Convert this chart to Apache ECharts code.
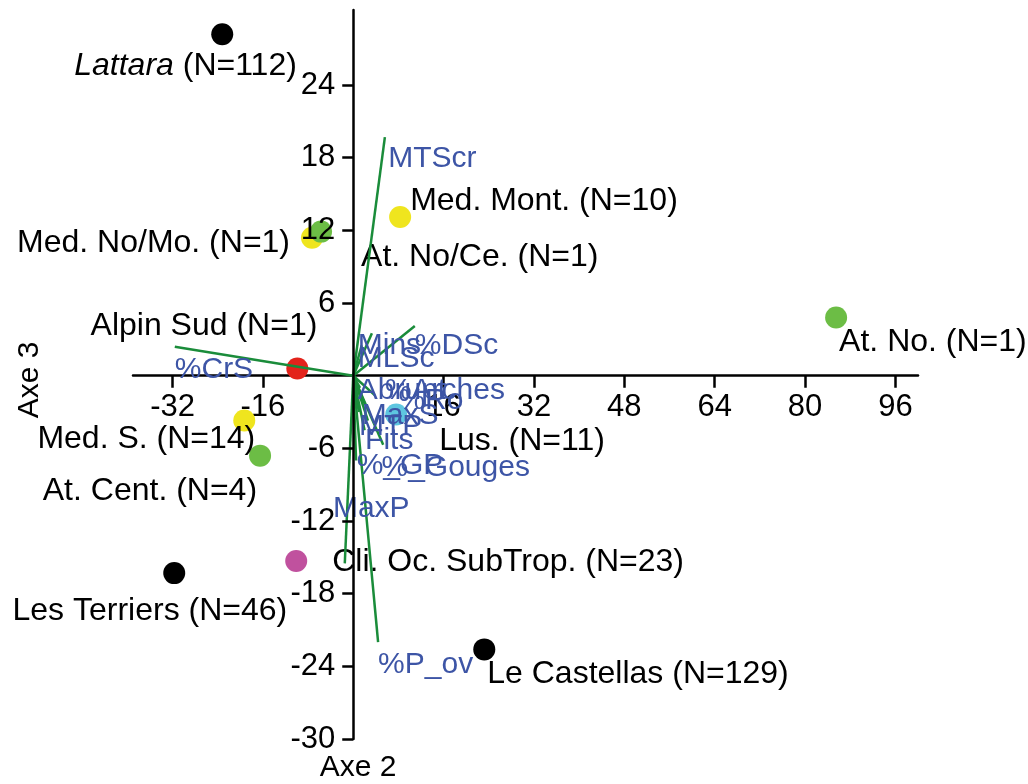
<!DOCTYPE html>
<html><head><meta charset="utf-8">
<script src="https://cdn.jsdelivr.net/npm/echarts@6/dist/echarts.min.js"></script>
<style>html,body{margin:0;padding:0;background:#fff}#c{width:1028px;height:784px}</style>
</head><body><div id="c"></div>
<script>
// ---- data ----
const siteNames = ['Lattara (N=112)','Med. Mont. (N=10)','Med. No/Mo. (N=1)','At. No/Ce. (N=1)','At. No. (N=1)','Alpin Sud (N=1)','Med. S. (N=14)','At. Cent. (N=4)','Lus. (N=11)','Les Terriers (N=46)','Cli. Oc. SubTrop. (N=23)','Le Castellas (N=129)'];
const siteX = [-23.2, 8.3, -7.3, -5.7, 85.5, -9.9, -19.3, -16.5, 7.6, -31.7, -10.1, 23.2];
const siteY = [28.2, 13.1, 11.4, 11.9, 4.8, 0.6, -3.7, -6.6, -3.2, -16.3, -15.3, -22.6];
const siteGroup = ['black','yellow','yellow','green','green','red','yellow','green','cyan','black','magenta','black'];

const varNames = ['MTScr','%CrS','%P_ov','MaxP','%DSc','Mins','MLSc','Abrupt','%Arches','%Ro','MaxS','MTP','Fits','%_GP','%_Gouges'];
const varEndX = [5.6, -31.6, 4.4, -1.5, 10.9, 3.3, 1.5, 1.2, 3.8, 2.6, 2.1, 1.0, 5.3, 0.5, 2.0];
const varEndY = [19.7, 2.4, -22.0, -15.5, 4.1, 3.5, 2.5, -1.0, -1.6, -3.7, -2.4, -3.0, -5.7, -7.0, -4.5];
const varLabelX = [6.2, -31.6, 4.4, -3.6, 10.9, 0.8, 0.8, 0.8, 5.6, 8.0, 1.5, 1.0, 2.1, 0.6, 5.0];
const varLabelY = [17.9, 0.5, -23.9, -11.0, 2.5, 2.5, 1.4, -1.2, -1.2, -2.1, -3.3, -4.2, -5.4, -7.4, -7.6];

const xTicks = [-32, -16, 16, 32, 48, 64, 80, 96];
const yTicks = [-30, -24, -18, -12, -6, 6, 12, 18, 24];

// ---- layout / style ----
const groupColor = {black:'#000000', yellow:'#efe51e', green:'#6cbd45', red:'#e3231b', magenta:'#c0519e', cyan:'#5ec6e0'};
// label placement [dx, dy, align] relative to symbol box top-left
const siteLabelPlace = [[-137,43,'left'],[21,-5,'left'],[-11,17,'right'],[51,37,'left'],[14,36,'left'],[31,-31,'right'],[22,30,'right'],[8,47,'right'],[54,38,'left'],[124,49,'right'],[47,12,'left'],[14,36,'left']];
const FONT = '"Liberation Sans", Arial, sans-serif';

const chart = echarts.init(document.getElementById('c'), null, {renderer:'canvas'});

const siteData = siteNames.map((n,i)=>{
  const p = siteLabelPlace[i];
  const isItalic = n.startsWith('Lattara');
  return {
    value:[siteX[i], siteY[i]], name:n,
    itemStyle:{color: groupColor[siteGroup[i]], opacity:1},
    label:{show:true, position:[p[0],p[1]], align:p[2], verticalAlign:'middle', color:'#000',
      formatter: isItalic ? '{i|Lattara} (N=112)' : n,
      rich: {i:{fontStyle:'italic', fontSize:32, fontFamily:FONT, color:'#000'}}}
  };
});

const lineData = varNames.map((n,i)=>({coords:[[0,0],[varEndX[i], varEndY[i]]]}));
const varLabelData = varNames.map((n,i)=>({value:[varLabelX[i], varLabelY[i]], name:n}));

chart.setOption({
  animation:false,
  grid:{left:133, right:110, top:10, bottom:45, containLabel:false},
  xAxis:{type:'value', min:-39, max:100, position:'bottom', offset:-363.3, z:0,
    axisLine:{onZero:false, lineStyle:{color:'#000', width:2.5}},
    axisTick:{show:true, customValues:xTicks, length:12, lineStyle:{color:'#000', width:2.5}},
    axisLabel:{customValues:xTicks, fontSize:31, color:'#000', fontFamily:FONT, margin:16},
    splitLine:{show:false}},
  yAxis:{type:'value', min:-30, max:30.2, position:'left', offset:-220.25, z:10,
    axisLine:{onZero:false, lineStyle:{color:'#000', width:2.5}},
    axisTick:{show:true, customValues:yTicks, length:11, lineStyle:{color:'#000', width:2.5}},
    axisLabel:{customValues:yTicks, fontSize:31, color:'#000', fontFamily:FONT, margin:18},
    splitLine:{show:false}},
  graphic:[
    {type:'text', x:30, y:380, rotation:Math.PI/2, style:{text:'Axe 3', font:'30px '+FONT, fill:'#000', align:'center', verticalAlign:'middle'}},
    {type:'text', x:358, y:768, style:{text:'Axe 2', font:'30px '+FONT, fill:'#000', align:'center', verticalAlign:'middle'}}
  ],
  series:[
    {type:'scatter', z:2, symbol:'circle', symbolSize:22, data:siteData,
      itemStyle:{opacity:1},
      label:{fontSize:32, color:'#000', fontFamily:FONT}},
    {type:'lines', z:3, coordinateSystem:'cartesian2d', polyline:false, symbol:'none',
      lineStyle:{color:'#1a8c3a', width:2.5, opacity:1}, data:lineData},
    {type:'scatter', z:4, symbolSize:0, data:varLabelData, itemStyle:{opacity:1},
      label:{show:true, position:[0,0], align:'left', verticalAlign:'middle', formatter:'{b}',
        fontSize:30, color:'#3d55a6', fontFamily:FONT}}
  ]
});
</script></body></html>
